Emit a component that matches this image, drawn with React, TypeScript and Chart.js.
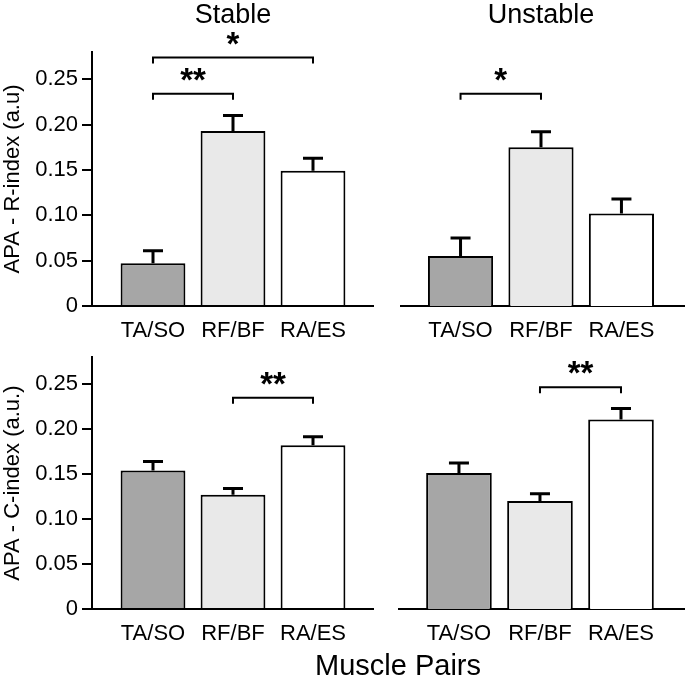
import React, { useEffect, useRef } from 'react';
import { Chart, registerables } from 'chart.js';

Chart.register(...registerables);
Chart.defaults.font.family = "'Liberation Sans', Arial, Helvetica, sans-serif";
Chart.defaults.color = '#000';

// ---------------- data ----------------
const categories = ['TA/SO', 'RF/BF', 'RA/ES'];
const categoryPositions = [1, 2, 3];
const barColors = ['#a6a6a6', '#e9e9e9', '#ffffff'];

const yTicks = [0, 0.05, 0.1, 0.15, 0.2, 0.25];
const yMax = 0.28;

const stableR = [0.047, 0.193, 0.149];
const stableRErr = [0.014, 0.017, 0.014];
const unstableR = [0.055, 0.175, 0.102];
const unstableRErr = [0.02, 0.017, 0.016];
const stableC = [0.154, 0.127, 0.182];
const stableCErr = [0.01, 0.007, 0.0095];
const unstableC = [0.15, 0.119, 0.209];
const unstableCErr = [0.011, 0.008, 0.012];

const stableRSig = [
  { from: 0, to: 1, y: 0.234, label: '**' },
  { from: 0, to: 2, y: 0.274, label: '*' },
];
const unstableRSig = [{ from: 0, to: 1, y: 0.234, label: '*' }];
const stableCSig = [{ from: 1, to: 2, y: 0.235, label: '**' }];
const unstableCSig = [{ from: 1, to: 2, y: 0.2445, label: '**' }];

const panelTitles = ['Stable', 'Unstable'];
const yTitles = ['APA - R-index (a.u)', 'APA - C-index (a.u.)'];
const xTitle = 'Muscle Pairs';

// ---------------- panel ----------------
type Sig = { from: number; to: number; y: number; label: string };
type PanelProps = {
  values: number[];
  errs: number[];
  sig: Sig[];
  title?: string;
  yTitle?: string;
  showY: boolean;
  box: { left: number; top: number; width: number; height: number };
  pad: { top: number; left: number; right: number; bottom: number };
  xRange: [number, number];
};

function Panel(props: PanelProps) {
  const ref = useRef<HTMLCanvasElement | null>(null);
  useEffect(() => {
    if (!ref.current) return;
    const { values, errs, sig, title, yTitle, showY, pad, xRange } = props;
    const annot = {
      id: 'annot',
      afterDatasetsDraw(chart: any) {
        const { ctx } = chart;
        const x = chart.scales.x;
        const y = chart.scales.y;
        ctx.save();
        ctx.strokeStyle = '#000';
        ctx.fillStyle = '#000';
        // error bars (upper only)
        ctx.lineWidth = 3;
        values.forEach((v, i) => {
          const px = x.getPixelForValue(categoryPositions[i]);
          const top = y.getPixelForValue(v);
          const et = y.getPixelForValue(v + errs[i]);
          ctx.beginPath();
          ctx.moveTo(px, top);
          ctx.lineTo(px, et);
          ctx.moveTo(px - 10, et);
          ctx.lineTo(px + 10, et);
          ctx.stroke();
        });
        // significance brackets
        ctx.lineWidth = 2;
        ctx.textAlign = 'center';
        ctx.textBaseline = 'middle';
        ctx.font = "bold 33px 'Liberation Sans', Arial, sans-serif";
        sig.forEach((b) => {
          const x1 = x.getPixelForValue(categoryPositions[b.from]);
          const x2 = x.getPixelForValue(categoryPositions[b.to]);
          const yy = y.getPixelForValue(b.y);
          ctx.beginPath();
          ctx.moveTo(x1, yy + 6);
          ctx.lineTo(x1, yy);
          ctx.lineTo(x2, yy);
          ctx.lineTo(x2, yy + 6);
          ctx.stroke();
          ctx.fillText(b.label, (x1 + x2) / 2, yy - 12);
        });
        if (title) {
          ctx.font = "27px 'Liberation Sans', Arial, sans-serif";
          ctx.textBaseline = 'alphabetic';
          ctx.fillText(title, x.getPixelForValue(categoryPositions[1]), 23);
        }
        ctx.restore();
      },
    };
    const chart = new Chart(ref.current, {
      type: 'bar',
      data: {
        datasets: [
          {
            data: categoryPositions.map((p, i) => ({ x: p, y: values[i] })),
            backgroundColor: barColors,
            borderColor: '#000',
            borderWidth: 2,
            borderSkipped: 'start',
            categoryPercentage: 1,
            barPercentage: 0.81,
          } as any,
        ],
      },
      options: {
        responsive: false,
        animation: false,
        events: [],
        layout: { padding: pad },
        plugins: {
          legend: { display: false },
          tooltip: { enabled: false },
          title: { display: false },
        },
        scales: {
          x: {
            type: 'linear',
            offset: false,
            z: 1,
            min: xRange[0],
            max: xRange[1],
            afterBuildTicks: (s: any) => {
              s.ticks = categoryPositions.map((v) => ({ value: v }));
            },
            afterFit: (s: any) => {
              s.height = 34;
            },
            ticks: {
              autoSkip: false,
              maxRotation: 0,
              padding: 4,
              color: '#000',
              font: { size: 22 },
              callback: (v: any) => categories[categoryPositions.indexOf(Number(v))] ?? '',
            },
            grid: { display: false, offset: false },
            border: { display: true, color: '#000', width: 2 },
          },
          y: {
            type: 'linear',
            display: showY,
            min: 0,
            max: yMax,
            afterBuildTicks: (s: any) => {
              s.ticks = yTicks.map((v) => ({ value: v }));
            },
            afterFit: (s: any) => {
              if (showY) s.width = 92;
            },
            ticks: {
              padding: 4,
              color: '#000',
              font: { size: 22 },
              callback: (v: any) => (Number(v) === 0 ? '0' : Number(v).toFixed(2)),
            },
            grid: {
              drawOnChartArea: false,
              drawTicks: true,
              tickLength: 10,
              color: '#000',
              lineWidth: 2,
            },
            border: { display: true, color: '#000', width: 2 },
            title: {
              display: !!yTitle,
              text: yTitle || '',
              color: '#000',
              font: { size: 22 },
              padding: 0,
            },
          },
        },
      } as any,
      plugins: [annot],
    });
    return () => chart.destroy();
  }, []);
  const { box } = props;
  return (
    <canvas
      ref={ref}
      width={box.width}
      height={box.height}
      style={{
        position: 'absolute',
        left: box.left,
        top: box.top,
        width: box.width,
        height: box.height,
      }}
    />
  );
}

export default function App() {
  return (
    <div
      style={{
        position: 'absolute',
        left: 0,
        top: 0,
        width: 685,
        height: 679,
        background: '#fff',
        overflow: 'hidden',
      }}
    >
      <Panel
        values={stableR}
        errs={stableRErr}
        sig={stableRSig}
        title={panelTitles[0]}
        yTitle={yTitles[0]}
        showY={true}
        box={{ left: 0, top: 0, width: 380, height: 340 }}
        pad={{ top: 52, left: 0, right: 7, bottom: 0 }}
        xRange={[0.2375, 3.75]}
      />
      <Panel
        values={unstableR}
        errs={unstableRErr}
        sig={unstableRSig}
        title={panelTitles[1]}
        showY={false}
        box={{ left: 380, top: 0, width: 305, height: 340 }}
        pad={{ top: 52, left: 21, right: 0, bottom: 0 }}
        xRange={[0.26, 3.79]}
      />
      <Panel
        values={stableC}
        errs={stableCErr}
        sig={stableCSig}
        yTitle={yTitles[1]}
        showY={true}
        box={{ left: 0, top: 340, width: 380, height: 339 }}
        pad={{ top: 15, left: 0, right: 7, bottom: 36 }}
        xRange={[0.2375, 3.75]}
      />
      <Panel
        values={unstableC}
        errs={unstableCErr}
        sig={unstableCSig}
        showY={false}
        box={{ left: 380, top: 340, width: 305, height: 339 }}
        pad={{ top: 15, left: 19, right: 0, bottom: 36 }}
        xRange={[0.26, 3.79]}
      />
      <div
        style={{
          position: 'absolute',
          left: 398,
          top: 651,
          transform: 'translateX(-50%)',
          fontFamily: "'Liberation Sans', Arial, sans-serif",
          fontSize: 29,
          lineHeight: '29px',
          whiteSpace: 'nowrap',
          color: '#000',
        }}
      >
        {xTitle}
      </div>
    </div>
  );
}
